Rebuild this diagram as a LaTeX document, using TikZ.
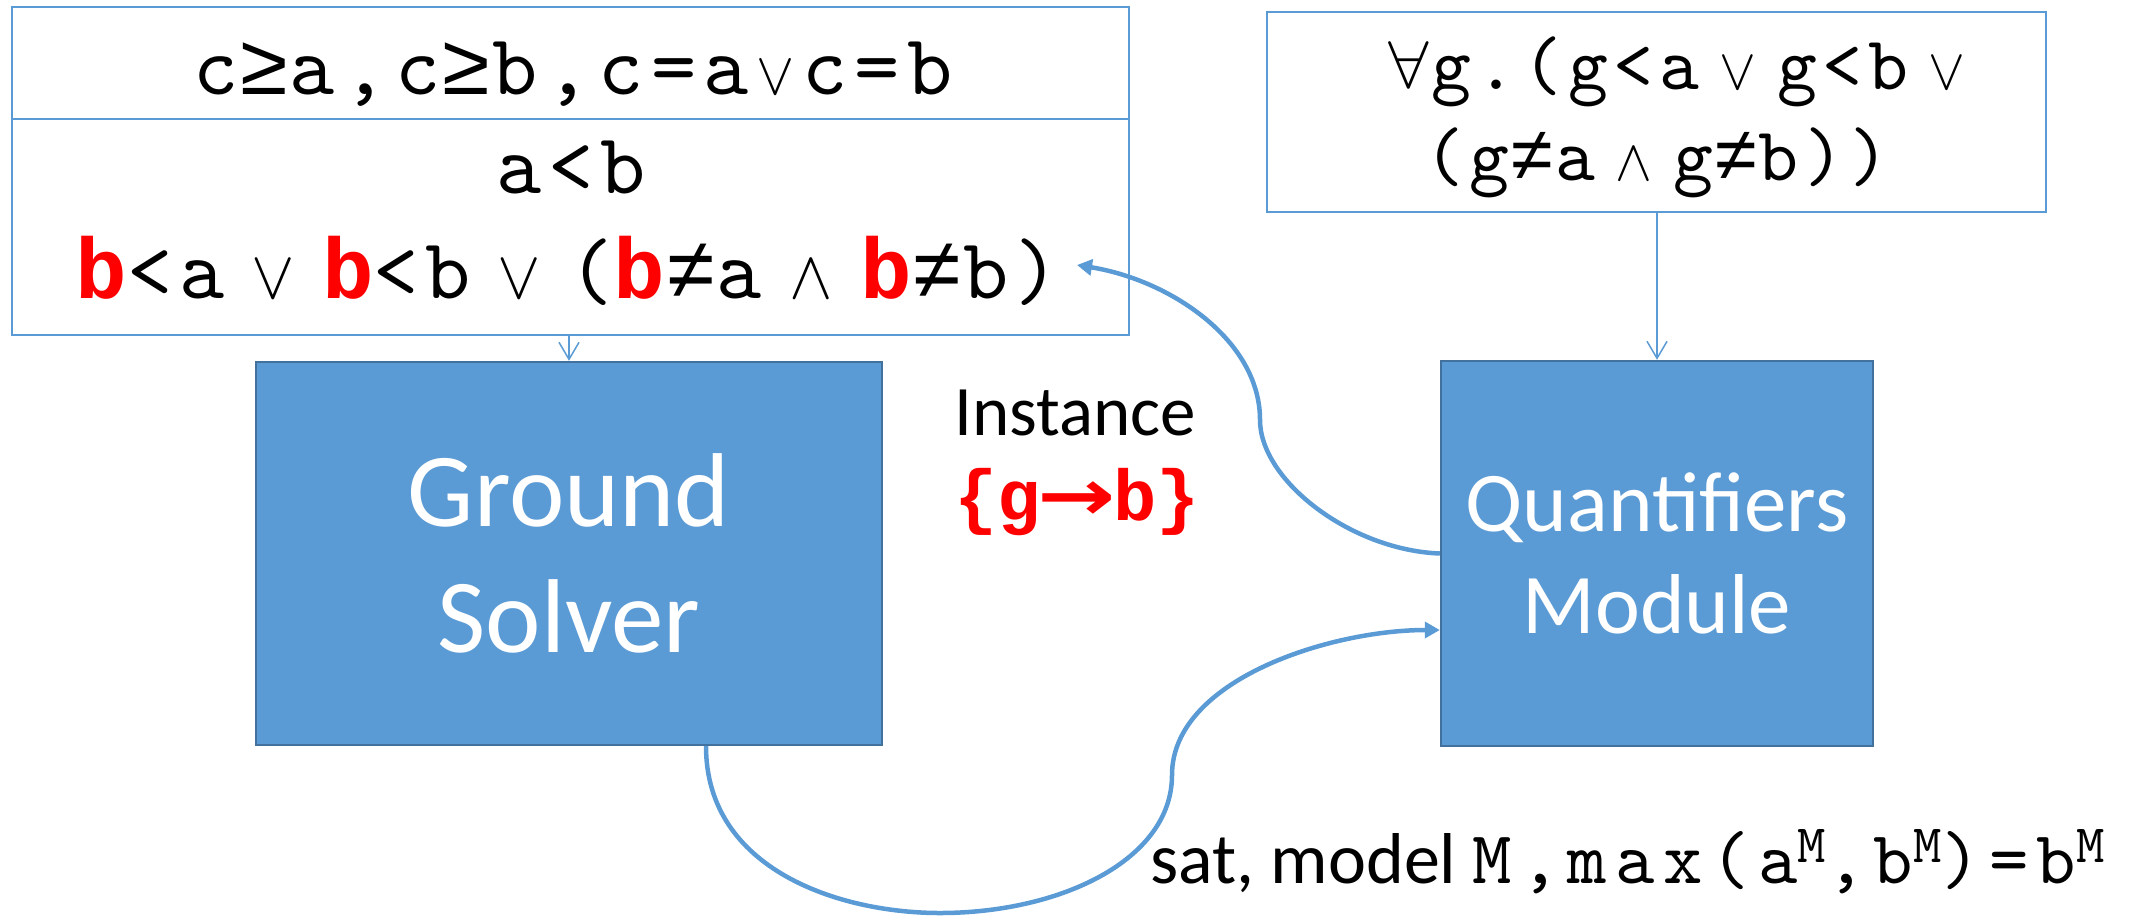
\documentclass[tikz,border=0pt]{standalone}
\usepackage{fontspec}
\usepackage{graphicx}
\setmainfont{Carlito}
\newfontfamily\mono[Extension=.otf, BoldFont=lmmonolt10-bold, LetterSpace=7.5]{lmmono10-regular}
\newfontfamily\libmono{Liberation Mono}
\newfontfamily\symf{DejaVu Sans}
\newfontfamily\lmath[Extension=.otf]{latinmodern-math}
\usetikzlibrary{arrows.meta}
\definecolor{boxblue}{HTML}{5B9BD5}
\definecolor{boxedge}{HTML}{41719C}
\definecolor{hired}{HTML}{FF0000}
\newcommand\rbb{{\libmono\bfseries\color{hired}b}}
\newcommand\cel[2]{\makebox[#1][c]{#2}}
\newcommand\vsym[2]{{\lmath\fontsize{#1}{#1}\selectfont #2}}
\newcommand\geqs{{\libmono ≥}}
\newcommand\neqs{{\libmono ≠}}
\newcommand\supm{\raisebox{10.5pt}{\fontsize{27pt}{27pt}\selectfont M}}
\tikzset{
  topbox/.style={draw=boxblue, line width=1pt, rectangle, inner sep=0pt},
  solver/.style={draw=boxedge, fill=boxblue, line width=1.2pt, rectangle, inner sep=0pt, text=white, align=center},
  thinarrow/.style={draw=boxblue, line width=0.75pt, -{Straight Barb[length=8.5pt,width=10pt]}},
  flow/.style={draw=boxblue, line width=2.25pt, -{Triangle[length=7.5pt,width=8pt]}},
  txt/.style={inner sep=0pt, anchor=base},
}
\begin{document}
\begin{tikzpicture}[x=0.5pt,y=-0.5pt]
\useasboundingbox (0,0) rectangle (2139,917);
% boxes
\node[topbox, minimum width=558.5pt, minimum height=56pt] (ltop) at (570.5,63) {};
\node[topbox, minimum width=558.5pt, minimum height=108pt] (lbot) at (570.5,227) {};
\node[topbox, minimum width=389.5pt, minimum height=100pt] (rbox) at (1656.5,112) {};
\node[solver, minimum width=313pt, minimum height=191.5pt, font=\fontsize{52.5pt}{63pt}\selectfont] (gs) at (569,553.5) {Ground\\Solver};
\node[solver, minimum width=216pt, minimum height=192.5pt, font=\fontsize{42.5pt}{51pt}\selectfont] (qm) at (1657,553.5) {Quantifiers\\Module};
% formulas
\node[txt, font=\mono\addfontfeatures{LetterSpace=9}\fontsize{43pt}{43pt}\selectfont] (t1) at (573,94) {c\geqs a,c\geqs b,c=a\cel{26.5pt}{\vsym{30pt}{∨}}c=b};
\node[txt, font=\mono\fontsize{43pt}{43pt}\selectfont] (t2) at (571,193) {a<b};
\node[txt, font=\mono\fontsize{43pt}{43pt}\selectfont] (t3) at (568,298) {\rbb<a\cel{49pt}{\vsym{34pt}{∨}}\rbb<b\cel{49pt}{\vsym{34pt}{∨}}(\rbb\neqs a\cel{49pt}{\vsym{34pt}{∧}}\rbb\neqs b)};
\node[txt, font=\mono\fontsize{38pt}{38pt}\selectfont] (r1) at (1686,89) {\cel{22.8pt}{\vsym{35pt}{∀}}g.(g<a\cel{39pt}{\vsym{29pt}{∨}}g<b\cel{39pt}{\vsym{29pt}{∨}}};
\node[txt, font=\mono\fontsize{38pt}{38pt}\selectfont] (r2) at (1657,180) {(g\neqs a\cel{39pt}{\vsym{29pt}{∧}}g\neqs b))};
% instance label
\node[txt, font=\fontsize{35.5pt}{35.5pt}\selectfont] (inst) at (1075,435) {Instance};
\node[txt, font=\libmono\bfseries\fontsize{36pt}{36pt}\selectfont, text=hired] (subst) at (1077,520) {\{g\cel{36pt}{\scalebox{1.3}[1]{\symf\bfseries →}}b\}};
% sat label
\node[txt, anchor=base west, font=\fontsize{36pt}{36pt}\selectfont] (satl) at (1150,883) {sat, model {\mono\addfontfeatures{LetterSpace=11}\fontsize{37.5pt}{37.5pt}\selectfont M,max(a\supm,b\supm)=b\supm}};
% connectors
\draw[thinarrow] (gs.north |- lbot.south) -- (gs.north);
\draw[thinarrow] (qm.north |- rbox.south) -- (qm.north);
\coordinate (instTip) at (1077,265);
\draw[flow] (qm.west) .. controls (1350,550) and (1260,480) .. (1260,420) .. controls (1260,340) and (1170,280) .. (instTip);
\draw[flow] ([xshift=68.5pt]gs.south) .. controls (706,870) and (840,913) .. (940,913) .. controls (1060,913) and (1172,860) .. (1172,775) .. controls (1172,680) and (1330,630) .. ([yshift=-38.25pt]qm.west);
\end{tikzpicture}
\end{document}
